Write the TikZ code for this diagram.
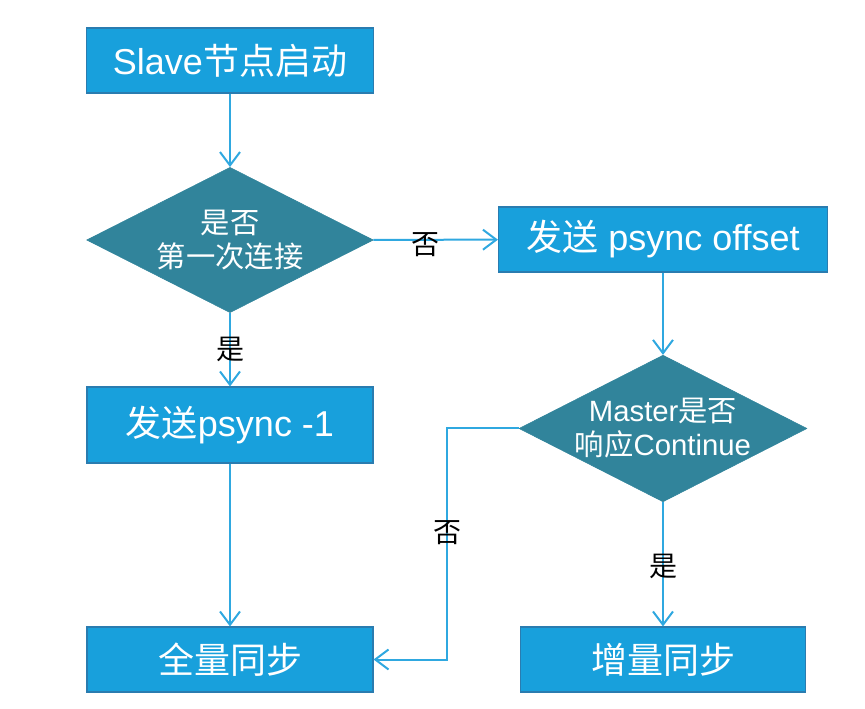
\documentclass[tikz,border=0pt]{standalone}
\usepackage{fontspec}
\setmainfont{Liberation Sans}
\newfontfamily\cjk{Noto Sans CJK SC}
\usetikzlibrary{shapes.geometric,arrows.meta}
\definecolor{boxblue}{HTML}{18A0DC}
\definecolor{boxedge}{HTML}{2A7CB0}
\definecolor{diateal}{HTML}{31849B}
\definecolor{lineblue}{HTML}{2FA8E0}
\newcommand{\zh}[1]{{\cjk #1}}

\begin{document}
\begin{tikzpicture}[x=0.75pt,y=-0.75pt,
  box/.style={draw=boxedge, line width=0.8pt, fill=boxblue, text=white,
    minimum width=214.5pt, minimum height=48.75pt, inner sep=0pt,
    font=\fontsize{27}{32}\selectfont},
  decision/.style={diamond, draw=diateal, fill=diateal,
    aspect=2, inner sep=0pt, minimum width=215pt, minimum height=109pt},
  diatext/.style={text=white, align=center, font=\fontsize{22}{25.5}\selectfont},
  link/.style={draw=lineblue, line width=1.5pt,
    -{Straight Barb[length=10pt,width=15pt]}},
  tag/.style={text=black, font=\fontsize{21}{24}\selectfont\cjk}]
  \useasboundingbox (0,0) rectangle (865,709);

  %–– Blocchi ––
  \node[box, minimum width=215.25pt] (start) at (230,60.5) {Slave\zh{节点启动}};
  \node[decision, label={[diatext]center:\zh{是否}\\\zh{第一次连接}}] (first) at (230,240) {};
  \node[box, minimum width=246.75pt] (offset) at (663,239.5) {\zh{发送} psync offset};
  \node[decision, minimum width=216pt, minimum height=110pt,
    label={[diatext]center:Master\zh{是否}\\\zh{响应}Continue}] (master) at (663,428.5) {};
  \node[box, minimum height=57pt] (minus) at (230,425) {\zh{发送}psync -1};
  \node[box] (full) at (230,659.5) {\zh{全量同步}};
  \node[box, minimum width=213.75pt] (partial) at (663,659.5) {\zh{增量同步}};
  \coordinate (turn) at (447,428.5);

  %–– Frecce ––
  \draw[link] (start) -- (first);
  \draw[link] (first) -- node[tag, pos=0.42, yshift=-4pt] {否} (offset);
  \draw[link] (first) -- node[tag, pos=0.5] {是} (minus);
  \draw[link] (offset) -- (master);
  \draw[link] (minus) -- (full);
  \draw[link] (master) -- node[tag, pos=0.52] {是} (partial);
  \draw[link] (master.west) -- (turn) -- node[tag, pos=0.45] {否} (turn |- full) -- (full);
\end{tikzpicture}
\end{document}
